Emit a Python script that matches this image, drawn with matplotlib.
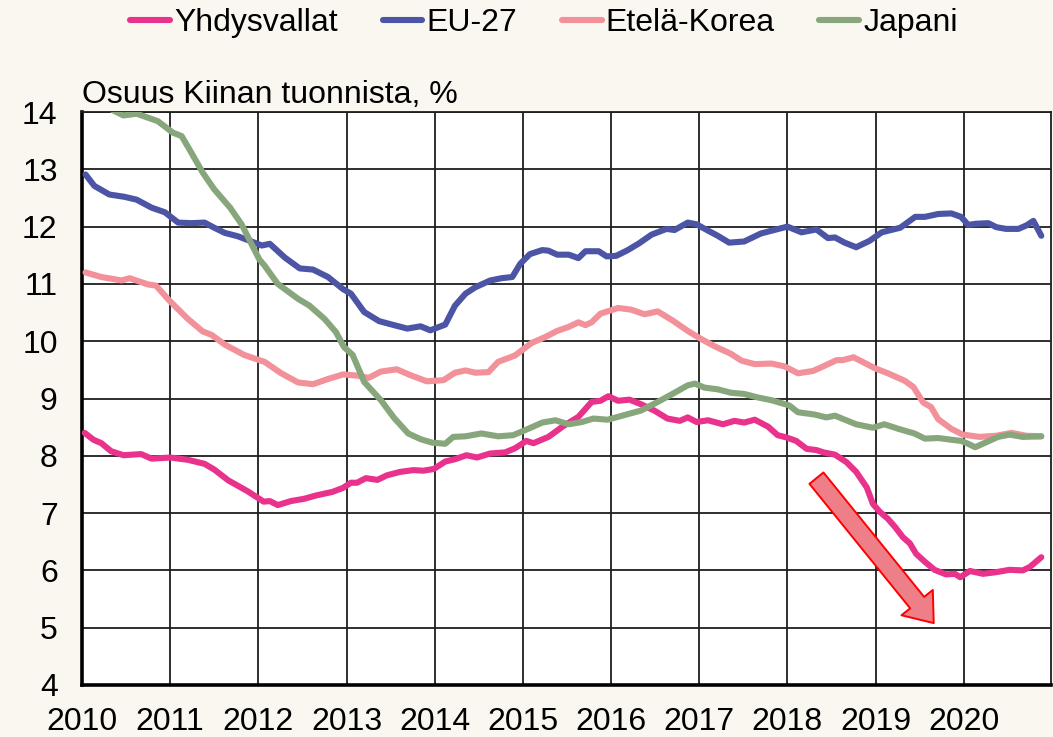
import matplotlib
matplotlib.use('Agg')
import matplotlib.pyplot as plt

plt.rcParams['font.family'] = ['Liberation Sans', 'DejaVu Sans']

# ---------------- data (decimal years, share of China's imports, %) ----------------
years = list(range(2010, 2021))
year_labels = [str(y) for y in years]
yticks = list(range(4, 15))

us_x = [2010.03, 2010.13, 2010.22, 2010.33, 2010.47, 2010.67, 2010.79, 2011.00, 2011.20, 2011.39, 2011.50, 2011.66, 2011.88,
        2012.06, 2012.13, 2012.22, 2012.37, 2012.52, 2012.66, 2012.84, 2012.96, 2013.05, 2013.12, 2013.22, 2013.35, 2013.46, 2013.61, 2013.76, 2013.87,
        2013.99, 2014.12, 2014.23, 2014.36, 2014.48, 2014.63, 2014.80, 2014.91, 2015.04, 2015.12, 2015.29, 2015.46, 2015.63, 2015.78, 2015.88, 2015.97,
        2016.08, 2016.21, 2016.34, 2016.49, 2016.64, 2016.78, 2016.87, 2016.97, 2017.10, 2017.27, 2017.40, 2017.51, 2017.63, 2017.78, 2017.89, 2017.99,
        2018.10, 2018.22, 2018.33, 2018.41, 2018.54, 2018.67, 2018.78, 2018.90, 2018.97, 2019.05, 2019.14, 2019.22, 2019.31, 2019.39, 2019.46, 2019.56, 2019.67, 2019.80, 2019.90, 2019.96,
        2020.07, 2020.22, 2020.37, 2020.52, 2020.67, 2020.75, 2020.88]
us_y = [8.40, 8.28, 8.22, 8.08, 8.01, 8.03, 7.95, 7.97, 7.93, 7.86, 7.76, 7.57, 7.38,
        7.20, 7.21, 7.14, 7.21, 7.25, 7.31, 7.37, 7.44, 7.53, 7.53, 7.61, 7.58, 7.66, 7.72, 7.75, 7.74,
        7.77, 7.90, 7.94, 8.01, 7.97, 8.04, 8.06, 8.13, 8.26, 8.22, 8.33, 8.52, 8.68, 8.94, 8.96, 9.04,
        8.96, 8.98, 8.90, 8.79, 8.65, 8.61, 8.67, 8.59, 8.62, 8.55, 8.61, 8.58, 8.63, 8.51, 8.36, 8.32,
        8.26, 8.12, 8.10, 8.06, 8.02, 7.89, 7.72, 7.45, 7.16, 7.02, 6.90, 6.76, 6.58, 6.47, 6.29, 6.15, 6.01, 5.93, 5.94, 5.88,
        5.99, 5.94, 5.97, 6.01, 6.00, 6.06, 6.23]

eu_x = [2010.04, 2010.14, 2010.31, 2010.48, 2010.62, 2010.79, 2010.94, 2011.09, 2011.24, 2011.39, 2011.50, 2011.62, 2011.77, 2011.99,
        2012.04, 2012.13, 2012.30, 2012.47, 2012.62, 2012.79, 2012.96, 2013.05, 2013.20, 2013.37, 2013.54, 2013.69, 2013.84, 2013.95,
        2014.12, 2014.23, 2014.35, 2014.46, 2014.63, 2014.76, 2014.88, 2014.97, 2015.08, 2015.22, 2015.29, 2015.39, 2015.52, 2015.63, 2015.71, 2015.86, 2015.95,
        2016.06, 2016.19, 2016.32, 2016.46, 2016.63, 2016.72, 2016.87, 2016.97, 2017.10, 2017.21, 2017.34, 2017.51, 2017.70, 2017.85, 2018.00,
        2018.16, 2018.33, 2018.46, 2018.54, 2018.65, 2018.78, 2018.93, 2019.07, 2019.28, 2019.45, 2019.56, 2019.71, 2019.86, 2019.97,
        2020.05, 2020.14, 2020.28, 2020.37, 2020.48, 2020.62, 2020.71, 2020.79, 2020.88]
eu_y = [12.91, 12.71, 12.56, 12.52, 12.47, 12.33, 12.25, 12.07, 12.06, 12.07, 11.98, 11.89, 11.83, 11.70,
        11.67, 11.70, 11.46, 11.27, 11.25, 11.12, 10.91, 10.83, 10.51, 10.35, 10.28, 10.22, 10.26, 10.19,
        10.29, 10.62, 10.83, 10.94, 11.06, 11.10, 11.12, 11.35, 11.52, 11.59, 11.58, 11.51, 11.51, 11.45, 11.57, 11.57, 11.48,
        11.49, 11.59, 11.71, 11.86, 11.96, 11.94, 12.07, 12.04, 11.93, 11.84, 11.72, 11.74, 11.88, 11.94, 12.00,
        11.90, 11.95, 11.80, 11.81, 11.72, 11.64, 11.75, 11.90, 11.98, 12.17, 12.17, 12.22, 12.23, 12.17,
        12.03, 12.05, 12.06, 11.99, 11.96, 11.96, 12.02, 12.10, 11.84]

kr_x = [2010.04, 2010.22, 2010.45, 2010.54, 2010.75, 2010.84, 2010.99, 2011.20, 2011.37, 2011.47, 2011.62, 2011.84, 2012.01,
        2012.07, 2012.26, 2012.45, 2012.62, 2012.79, 2012.96, 2013.12, 2013.25, 2013.39, 2013.57, 2013.72, 2013.91,
        2014.10, 2014.23, 2014.35, 2014.46, 2014.61, 2014.72, 2014.91, 2015.10, 2015.25, 2015.39, 2015.52, 2015.63, 2015.71, 2015.78, 2015.88,
        2016.08, 2016.23, 2016.38, 2016.53, 2016.70, 2016.87, 2017.02, 2017.19, 2017.36, 2017.48, 2017.63, 2017.82, 2017.97,
        2018.12, 2018.29, 2018.42, 2018.56, 2018.63, 2018.75, 2018.84, 2018.99, 2019.14, 2019.33, 2019.43, 2019.54, 2019.63, 2019.71, 2019.86,
        2019.99, 2020.18, 2020.37, 2020.54, 2020.71, 2020.88]
kr_y = [11.20, 11.12, 11.06, 11.10, 10.99, 10.97, 10.71, 10.39, 10.17, 10.11, 9.94, 9.76, 9.67,
        9.64, 9.44, 9.28, 9.25, 9.34, 9.42, 9.40, 9.36, 9.47, 9.51, 9.41, 9.30,
        9.32, 9.45, 9.49, 9.45, 9.46, 9.64, 9.75, 9.97, 10.07, 10.18, 10.25, 10.33, 10.28, 10.33, 10.48,
        10.58, 10.55, 10.47, 10.52, 10.36, 10.18, 10.04, 9.90, 9.78, 9.66, 9.60, 9.61, 9.56,
        9.44, 9.48, 9.57, 9.67, 9.67, 9.72, 9.65, 9.53, 9.44, 9.31, 9.20, 8.93, 8.85, 8.64, 8.47,
        8.37, 8.33, 8.35, 8.40, 8.35, 8.34]

jp_x = [2010.04, 2010.20, 2010.39, 2010.47, 2010.62, 2010.75, 2010.86, 2011.03, 2011.13, 2011.24, 2011.37, 2011.50, 2011.68, 2011.81, 2012.01,
        2012.07, 2012.22, 2012.45, 2012.58, 2012.75, 2012.88, 2012.97, 2013.07, 2013.20, 2013.39, 2013.54, 2013.70, 2013.84,
        2013.97, 2014.12, 2014.21, 2014.35, 2014.53, 2014.72, 2014.89, 2015.03, 2015.22, 2015.37, 2015.52, 2015.67, 2015.80,
        2015.96, 2016.15, 2016.34, 2016.53, 2016.72, 2016.87, 2016.95, 2017.06, 2017.21, 2017.36, 2017.51, 2017.66, 2017.82, 2018.02,
        2018.12, 2018.31, 2018.44, 2018.54, 2018.78, 2018.97, 2019.10, 2019.26, 2019.44, 2019.56, 2019.71, 2019.86,
        2019.97, 2020.05, 2020.13, 2020.26, 2020.39, 2020.52, 2020.67, 2020.88]
jp_y = [14.35, 14.15, 14.00, 13.94, 13.97, 13.90, 13.84, 13.64, 13.58, 13.29, 12.94, 12.65, 12.33, 12.04, 11.43,
        11.32, 11.00, 10.74, 10.62, 10.39, 10.16, 9.90, 9.76, 9.29, 8.97, 8.66, 8.39, 8.29,
        8.23, 8.21, 8.33, 8.34, 8.39, 8.34, 8.36, 8.45, 8.58, 8.62, 8.55, 8.59, 8.65,
        8.63, 8.71, 8.79, 8.94, 9.10, 9.23, 9.26, 9.19, 9.16, 9.10, 9.08, 9.02, 8.97, 8.88,
        8.76, 8.72, 8.67, 8.70, 8.55, 8.49, 8.55, 8.47, 8.39, 8.30, 8.31, 8.28,
        8.26, 8.21, 8.15, 8.24, 8.33, 8.37, 8.33, 8.34]

series_names = ['Yhdysvallat', 'EU-27', 'Etelä-Korea', 'Japani']
series_x = [us_x, eu_x, kr_x, jp_x]
series_y = [us_y, eu_y, kr_y, jp_y]
colors = ['#E8328C', '#4C55A5', '#F2919A', '#88A67C']

title_text = 'Osuus Kiinan tuonnista, %'
arrow_start = (2018.33, 7.61)   # annotation arrow (tail)
arrow_end = (2019.66, 5.08)     # annotation arrow (tip)

# ---------------- figure ----------------
W, H = 1053, 737
bg = '#FAF6F0'
FS = 23
fig = plt.figure(figsize=(W / 100, H / 100), dpi=100, facecolor=bg)
ax = fig.add_axes([82 / W, 52 / H, (1051 - 82) / W, (685 - 112) / H])
ax.set_facecolor('white')

lines = []
for name, xs, ys, c in zip(series_names, series_x, series_y, colors):
    assert len(xs) == len(ys)
    ln, = ax.plot(xs, ys, color=c, lw=4.4, label=name,
                  solid_joinstyle='round', solid_capstyle='round', zorder=3)
    lines.append(ln)

ax.set_xlim(2010, 2020.99)
ax.set_ylim(4, 14)
ax.set_xticks(years)
ax.set_xticklabels(year_labels)
ax.set_yticks(yticks)
ax.grid(True, color='#1E1E1E', lw=1.3)
ax.set_axisbelow(True)
ax.tick_params(axis='both', length=0, labelsize=FS, colors='black')
ax.tick_params(axis='y', pad=17.5)
ax.tick_params(axis='x', pad=15.5)
for s in ['left', 'bottom']:
    ax.spines[s].set_linewidth(2.6)
    ax.spines[s].set_color('black')
for s in ['top', 'right']:
    ax.spines[s].set_linewidth(1.3)
    ax.spines[s].set_color('#1E1E1E')

# annotation arrow
ax.annotate('', xy=arrow_end, xytext=arrow_start,
            arrowprops=dict(arrowstyle='simple,head_length=1.9,head_width=2.9,tail_width=1.3',
                            mutation_scale=10, fc='#EE7E87', ec='#FF0000', lw=1.4,
                            shrinkA=0, shrinkB=0),
            zorder=5)

fig.text(82 / W, 1 - 103 / H, title_text, fontsize=FS, ha='left', va='baseline')

fig.legend(lines, series_names, loc='center', bbox_to_anchor=(544 / W, 1 - 23 / H),
           ncol=4, frameon=False, fontsize=FS, handlelength=1.25, handletextpad=0.12,
           columnspacing=1.4, borderpad=0, borderaxespad=0)

fig.savefig('out.png', dpi=100, facecolor=bg)
